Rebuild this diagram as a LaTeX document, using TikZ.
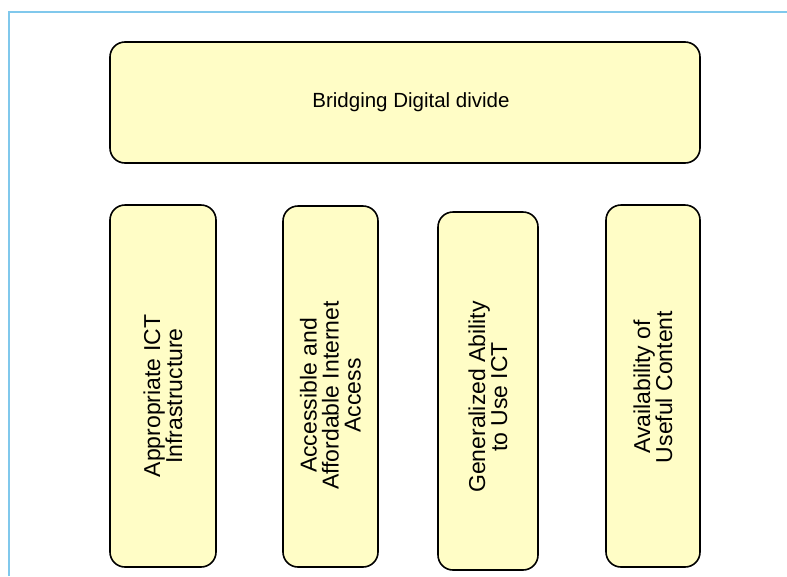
\documentclass[tikz,border=0pt]{standalone}
\usepackage{fontspec}
\setmainfont{Liberation Sans}

\definecolor{boxfill}{RGB}{255,253,198}
\definecolor{framecol}{RGB}{128,200,236}

\begin{document}
\begin{tikzpicture}[x=1pt,y=-1pt,
  box/.style={draw, line width=1.6pt, fill=boxfill, rounded corners=15pt, inner sep=0pt},
  toplabel/.style={font=\fontsize{20.5}{22}\selectfont},
  pillarlabel/.style={rotate=90, align=center, inner sep=0pt, font=\fontsize{23}{22}\selectfont}]

\useasboundingbox (0,0) rectangle (787,576);

% Frame
\draw[framecol, line width=1.3pt] (9,576) -- (9,12) -- (787,12);

% Top box
\node[box, minimum width=590pt, minimum height=121pt] (divide) at (405,102.5) {};
\node[toplabel] (dividetext) at ([xshift=6pt]divide.center) {Bridging Digital divide};

% Pillars (width across, height along the text)
\node[box, minimum width=106pt, minimum height=362pt] (infra) at (163,386) {};
\node[box, minimum width=95pt, minimum height=361pt] (access) at (330.5,386.5) {};
\node[box, minimum width=100pt, minimum height=358pt] (ability) at (488,391) {};
\node[box, minimum width=94pt, minimum height=362pt] (content) at (653,386) {};

\node[pillarlabel] (infratext) at ([yshift=-10pt]infra.center)
  {Appropriate ICT\\Infrastructure};
\node[pillarlabel] (accesstext) at ([yshift=-9pt]access.center)
  {Accessible and\\Affordable Internet\\Access};
\node[pillarlabel] (abilitytext) at ([yshift=-6pt]ability.center)
  {Generalized Ability\\to Use ICT};
\node[pillarlabel] (contenttext) at ([yshift=-1pt]content.center)
  {Availability of\\Useful Content};

\end{tikzpicture}
\end{document}
